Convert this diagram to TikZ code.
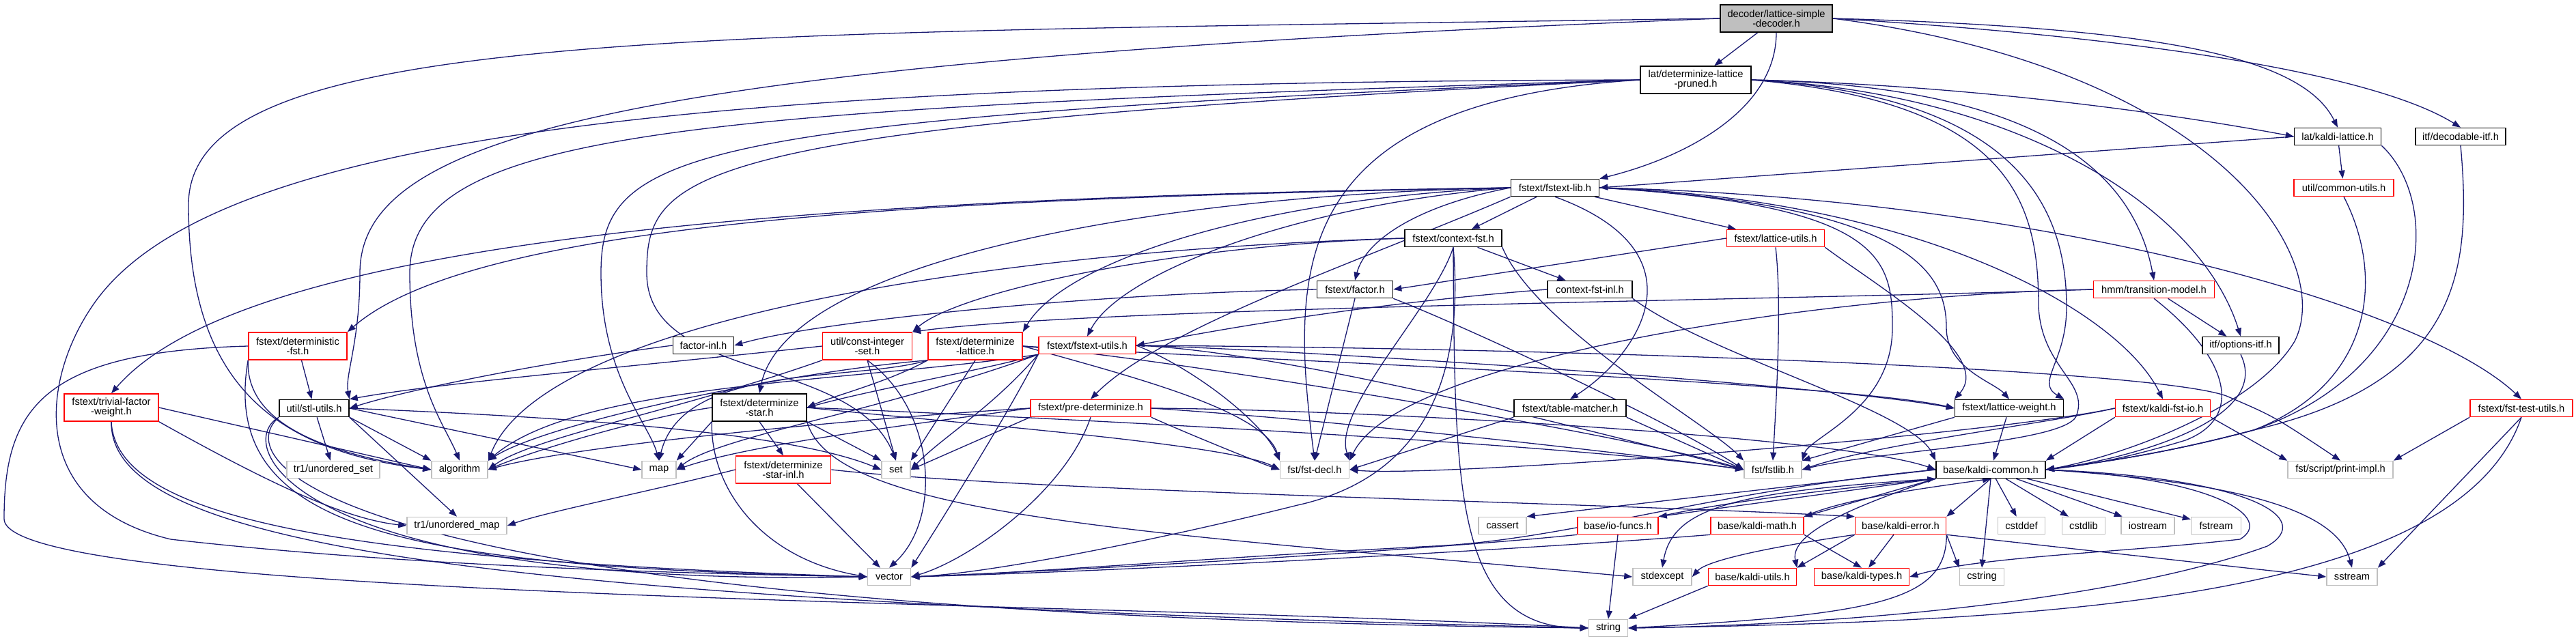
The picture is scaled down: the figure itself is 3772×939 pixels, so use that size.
\documentclass[tikz,border=0pt]{standalone}
\usepackage{fontspec}
\setmainfont{Liberation Sans}
\usetikzlibrary{arrows.meta}
\definecolor{edgeblue}{HTML}{191970}
\definecolor{boxgray}{HTML}{BFBFBF}
\pgfdeclarelayer{bg}
\pgfsetlayers{bg,main}
\tikzset{
  hdrbox/.style={draw=black, fill=white, line width=1.6pt, inner sep=0pt, align=center,
    minimum height=25pt, font=\fontsize{14.7}{14}\selectfont},
  cutbox/.style={hdrbox, draw=red},
  sysbox/.style={hdrbox, draw=boxgray},
  rootbox/.style={hdrbox, fill=boxgray},
  twoline/.style={minimum height=40pt},
  incl/.style={->, draw=edgeblue, line width=1.3pt},
}
\begin{document}
\begin{tikzpicture}[x=1pt, y=-1pt, >={Triangle[length=12pt,width=9pt]}]
\useasboundingbox (0,0) rectangle (3772,939);

\node[rootbox, twoline, minimum width=164pt] (dec) at (2601,27) {decoder/lattice-simple\\-decoder.h};
\node[hdrbox, twoline, minimum width=162pt] (dlp) at (2483,117) {lat/determinize-lattice\\-pruned.h};
\node[hdrbox, minimum width=129pt] (fsl) at (2277,275) {fstext/fstext-lib.h};
\node[hdrbox, minimum width=127pt] (kl) at (3423,200) {lat/kaldi-lattice.h};
\node[hdrbox, minimum width=132pt] (ditf) at (3603,200) {itf/decodable-itf.h};
\node[cutbox, minimum width=146pt] (cu) at (3432,275) {util/common-utils.h};
\node[hdrbox, minimum width=142pt] (cfst) at (2128,349) {fstext/context-fst.h};
\node[cutbox, minimum width=143pt] (lu) at (2600,349) {fstext/lattice-utils.h};
\node[hdrbox, minimum width=111pt] (fac) at (1984,424) {fstext/factor.h};
\node[hdrbox, minimum width=124pt] (cfi) at (2328,424) {context-fst-inl.h};
\node[cutbox, minimum width=177pt] (tm) at (3154,424) {hmm/transition-model.h};
\node[cutbox, twoline, minimum width=144pt] (dfst) at (436,507) {fstext/deterministic\\-fst.h};
\node[hdrbox, minimum width=89pt] (fi) at (1030,506) {factor-inl.h};
\node[cutbox, twoline, minimum width=131pt] (cis) at (1270,507) {util/const-integer\\-set.h};
\node[cutbox, twoline, minimum width=138pt] (dl) at (1428,507) {fstext/determinize\\-lattice.h};
\node[cutbox, minimum width=142pt] (fu) at (1592,506) {fstext/fstext-utils.h};
\node[hdrbox, minimum width=112pt] (oitf) at (3281,506) {itf/options-itf.h};
\node[cutbox, twoline, minimum width=138pt] (tfw) at (163,597) {fstext/trivial-factor\\-weight.h};
\node[hdrbox, minimum width=102pt] (stl) at (460,598) {util/stl-utils.h};
\node[hdrbox, twoline, minimum width=138pt] (ds) at (1112,597) {fstext/determinize\\-star.h};
\node[cutbox, minimum width=176pt] (pd) at (1597,598) {fstext/pre-determinize.h};
\node[hdrbox, minimum width=164pt] (tmat) at (2299,598) {fstext/table-matcher.h};
\node[hdrbox, minimum width=159pt] (lw) at (2942,598) {fstext/lattice-weight.h};
\node[cutbox, minimum width=139pt] (kfio) at (3167,598) {fstext/kaldi-fst-io.h};
\node[cutbox, minimum width=150pt] (ftu) at (3692,598) {fstext/fst-test-utils.h};
\node[sysbox, minimum width=136pt] (uset) at (488,688) {tr1/unordered\_set};
\node[sysbox, minimum width=82pt] (alg) at (673,688) {algorithm};
\node[sysbox, minimum width=50pt] (map) at (965,688) {map};
\node[cutbox, twoline, minimum width=139pt] (dsi) at (1147,688) {fstext/determinize\\-star-inl.h};
\node[sysbox, minimum width=42pt] (set) at (1312,688) {set};
\node[sysbox, minimum width=101pt] (fdecl) at (1925,688) {fst/fst-decl.h};
\node[sysbox, minimum width=84pt] (fstlib) at (2596,688) {fst/fstlib.h};
\node[hdrbox, minimum width=160pt] (kc) at (2915,688) {base/kaldi-common.h};
\node[sysbox, minimum width=154pt] (pimpl) at (3427,688) {fst/script/print-impl.h};
\node[sysbox, minimum width=146pt] (umap) at (669,770) {tr1/unordered\_map};
\node[sysbox, minimum width=70pt] (cassert) at (2200,770) {cassert};
\node[cutbox, minimum width=118pt] (iof) at (2369,770) {base/io-funcs.h};
\node[cutbox, minimum width=136pt] (kmath) at (2573,770) {base/kaldi-math.h};
\node[cutbox, minimum width=133pt] (kerr) at (2783,770) {base/kaldi-error.h};
\node[sysbox, minimum width=69pt] (cstddef) at (2960,770) {cstddef};
\node[sysbox, minimum width=63pt] (cstdlib) at (3051,770) {cstdlib};
\node[sysbox, minimum width=78pt] (iostream) at (3145,770) {iostream};
\node[sysbox, minimum width=73pt] (fstream) at (3245,770) {fstream};
\node[sysbox, minimum width=63pt] (vector) at (1302,845) {vector};
\node[sysbox, minimum width=86pt] (stdexcept) at (2434,845) {stdexcept};
\node[cutbox, minimum width=129pt] (kutils) at (2566,845) {base/kaldi-utils.h};
\node[cutbox, minimum width=139pt] (ktypes) at (2726,845) {base/kaldi-types.h};
\node[sysbox, minimum width=65pt] (cstring) at (2902,845) {cstring};
\node[sysbox, minimum width=74pt] (sstream) at (3444,845) {sstream};
\node[sysbox, minimum width=57pt] (string) at (2355,920) {string};

\begin{pgfonlayer}{bg}
\draw[incl] (dec) -- (dlp);
\draw[incl] (dec.south) .. controls (2601,160) and (2470,230) .. (fsl.north east);
\draw[incl] (dec.east) .. controls (3150,40) and (3370,80) .. (kl.north);
\draw[incl] (dec.east) .. controls (3150,55) and (3480,110) .. (ditf.north);
\draw[incl] (dec.east) .. controls (3250,100) and (3420,380) .. (3360,500) .. controls (3300,600) and (3100,670) .. (kc.east);
\draw[incl] (dec.west) .. controls (900,90) and (527,200) .. (527,400) .. controls (527,500) and (505,550) .. (stl.north east);
\draw[incl] (dec.west) .. controls (1000,50) and (276,40) .. (276,300) .. controls (276,560) and (400,660) .. (alg.west);

\draw[incl] (dlp.west) .. controls (1880,150) and (1890,400) .. (fdecl.north);
\draw[incl] (dlp.west) .. controls (1000,160) and (600,190) .. (600,400) .. controls (600,560) and (650,620) .. (alg.north);
\draw[incl] (dlp.west) .. controls (1000,175) and (880,220) .. (880,400) .. controls (880,550) and (950,620) .. (map.north);
\draw[incl] (dlp.west) .. controls (1000,185) and (947,250) .. (947,400) .. controls (947,560) and (1250,520) .. (set.north);
\draw[incl] (dlp.west) .. controls (1000,120) and (300,200) .. (134,450) .. controls (60,560) and (40,740) .. (250,790) .. controls (600,830) and (1000,840) .. (vector.west);
\draw[incl] (dlp.east) .. controls (2900,125) and (3200,170) .. (kl.west);
\draw[incl] (dlp.east) .. controls (2950,125) and (3120,230) .. (tm.north);
\draw[incl] (dlp.east) .. controls (2950,135) and (3220,300) .. (oitf.north);
\draw[incl] (dlp.east) .. controls (2950,140) and (3026,300) .. (3026,450) .. controls (3026,530) and (2980,560) .. (lw.north east);
\draw[incl] (dlp.east) .. controls (2950,150) and (2985,300) .. (2985,450) .. controls (2990,540) and (3060,560) .. (3040,610) .. controls (3020,650) and (2750,660) .. (fstlib.east);

\draw[incl] (fsl) -- (cfst);
\draw[incl] (fsl) -- (lu);
\draw[incl] (fsl.west) .. controls (2080,300) and (2000,350) .. (fac.north);
\draw[incl] (fsl.south) .. controls (2500,370) and (2400,520) .. (tmat.north);
\draw[incl] (fsl.west) .. controls (1850,290) and (1560,380) .. (dl.north east);
\draw[incl] (fsl.west) .. controls (1900,300) and (1640,400) .. (fu.north);
\draw[incl] (fsl.west) .. controls (1700,285) and (1150,380) .. (ds.north);
\draw[incl] (fsl.south west) .. controls (2000,380) and (1700,480) .. (pd.north);
\draw[incl] (fsl.west) .. controls (1400,290) and (700,320) .. (dfst.north east);
\draw[incl] (fsl.west) .. controls (1100,290) and (350,360) .. (tfw.north);
\draw[incl] (fsl.east) .. controls (2760,300) and (2771,380) .. (2771,480) .. controls (2771,600) and (2650,640) .. (fstlib.north east);
\draw[incl] (fsl.east) .. controls (2800,300) and (2850,400) .. (2850,480) .. controls (2850,540) and (2920,560) .. (lw.north);
\draw[incl] (fsl.east) .. controls (2800,290) and (3100,450) .. (kfio.north);
\draw[incl] (fsl.east) .. controls (3000,290) and (3550,450) .. (ftu.north);

\draw[incl] (kl.west) -- (fsl.east);
\draw[incl] (kl) -- (cu);
\draw[incl] (kl.south east) .. controls (3580,300) and (3560,540) .. (3300,630) .. controls (3150,670) and (3050,680) .. (kc.east);
\draw[incl] (ditf.south) .. controls (3620,400) and (3600,560) .. (3300,630) .. controls (3150,670) and (3050,680) .. (kc.east);
\draw[incl] (cu.south) .. controls (3490,400) and (3480,560) .. (3300,630) .. controls (3150,670) and (3050,680) .. (kc.east);

\draw[incl] (cfst) -- (cfi);
\draw[incl] (cfst.west) .. controls (1700,360) and (1400,430) .. (cis.north east);
\draw[incl] (cfst.west) .. controls (1500,365) and (800,460) .. (alg.north east);
\draw[incl] (cfst.south) .. controls (2100,450) and (1950,600) .. (fdecl.north east);
\draw[incl] (cfst.south east) .. controls (2250,480) and (2500,620) .. (fstlib.north west);
\draw[incl] (cfst.south) .. controls (2145,560) and (2080,700) .. (1900,740) .. controls (1700,790) and (1450,840) .. (vector.east);
\draw[incl] (cfst.south) .. controls (2130,720) and (2130,920) .. (string.west);

\draw[incl] (cfi.west) .. controls (2000,445) and (1800,480) .. (fu.east);
\draw[incl] (cfi.south east) .. controls (2500,520) and (2800,600) .. (kc.north west);

\draw[incl] (lu.west) -- (fac.east);
\draw[incl] (lu.south) .. controls (2610,450) and (2600,600) .. (fstlib.north);
\draw[incl] (lu.south east) .. controls (2750,420) and (2920,520) .. (lw.north west);

\draw[incl] (fac.west) .. controls (1600,430) and (1200,470) .. (fi.east);
\draw[incl] (fac.south) -- (fdecl.north);
\draw[incl] (fac.south east) .. controls (2150,480) and (2450,620) .. (fstlib.west);

\draw[incl] (fi.west) .. controls (800,530) and (600,570) .. (stl.east);

\draw[incl] (cis.west) .. controls (900,540) and (650,560) .. (stl.north east);
\draw[incl] (cis.south west) .. controls (1000,600) and (780,640) .. (alg.east);
\draw[incl] (cis.south) -- (set.north);
\draw[incl] (cis.south) .. controls (1370,600) and (1380,760) .. (vector.north);

\draw[incl] (dl.south) -- (set.north east);
\draw[incl] (dl.south west) .. controls (1250,560) and (1000,530) .. (map.north);
\draw[incl] (dl.south west) .. controls (1300,560) and (1220,580) .. (ds.east);
\draw[incl] (dl.south west) .. controls (1150,545) and (800,620) .. (alg.north east);
\draw[incl] (dl.east) .. controls (1650,550) and (1850,600) .. (fdecl.north west);
\draw[incl] (dl.east) .. controls (1750,530) and (2400,640) .. (fstlib.west);
\draw[incl] (dl.east) .. controls (1800,525) and (2700,560) .. (lw.west);

\draw[incl] (fu.south west) .. controls (1450,540) and (1280,570) .. (ds.east);
\draw[incl] (fu.south west) .. controls (1450,600) and (1380,640) .. (set.east);
\draw[incl] (fu.south west) .. controls (1480,600) and (1380,760) .. (vector.north east);
\draw[incl] (fu.south west) .. controls (1300,600) and (1050,640) .. (map.east);
\draw[incl] (fu.south west) .. controls (1250,560) and (850,560) .. (alg.north east);
\draw[incl] (fu.east) .. controls (1750,540) and (1850,620) .. (fdecl.north west);
\draw[incl] (fu.east) .. controls (1900,515) and (2400,650) .. (fstlib.west);
\draw[incl] (fu.east) .. controls (1850,510) and (2650,560) .. (lw.west);
\draw[incl] (fu.east) .. controls (2300,510) and (3150,540) .. (3260,580) .. controls (3330,610) .. (pimpl.north);

\draw[incl] (ds.south west) -- (map.north east);
\draw[incl] (ds.south) -- (dsi.north);
\draw[incl] (ds.south east) -- (set.north west);
\draw[incl] (ds.south west) .. controls (1040,720) and (1120,820) .. (vector.west);
\draw[incl] (ds.west) .. controls (950,610) and (780,660) .. (alg.east);
\draw[incl] (ds.south east) .. controls (1220,760) and (1700,780) .. (stdexcept.west);
\draw[incl] (ds.east) .. controls (1400,620) and (1800,650) .. (fdecl.west);
\draw[incl] (ds.east) .. controls (1500,610) and (2300,650) .. (fstlib.west);

\draw[incl] (dsi) -- (vector);
\draw[incl] (dsi.west) .. controls (950,720) and (800,750) .. (umap.east);
\draw[incl] (dsi.east) .. controls (1500,720) and (2300,735) .. (kerr.north west);

\draw[incl] (pd.south west) -- (set.east);
\draw[incl] (pd.west) .. controls (1350,620) and (1100,650) .. (map.east);
\draw[incl] (pd.west) .. controls (1300,610) and (850,650) .. (alg.east);
\draw[incl] (pd.south) .. controls (1560,720) and (1420,820) .. (vector.east);
\draw[incl] (pd.south east) .. controls (1750,640) and (1850,680) .. (fdecl.west);
\draw[incl] (pd.east) .. controls (1950,615) and (2400,665) .. (fstlib.west);
\draw[incl] (pd.east) .. controls (2000,600) and (2700,640) .. (kc.west);

\draw[incl] (tmat.south west) -- (fdecl.east);
\draw[incl] (tmat.south east) -- (fstlib.west);

\draw[incl] (lw.south west) -- (fstlib.north east);
\draw[incl] (lw) -- (kc);

\draw[incl] (kfio.south west) -- (kc.north east);
\draw[incl] (kfio.west) .. controls (3000,620) and (2750,650) .. (fstlib.east);
\draw[incl] (kfio.west) .. controls (2900,640) and (2100,700) .. (fdecl.east);
\draw[incl] (kfio.south east) -- (pimpl.north west);

\draw[incl] (ftu.south west) -- (pimpl.north east);
\draw[incl] (ftu.south) -- (sstream.north east);
\draw[incl] (ftu.south) .. controls (3600,880) and (3000,910) .. (string.east);

\draw[incl] (oitf.south) .. controls (3330,620) and (3100,675) .. (kc.east);
\draw[incl] (tm) -- (oitf);
\draw[incl] (tm.south) .. controls (3260,520) and (3290,610) .. (3200,645) .. controls (3100,675) and (3050,682) .. (kc.east);
\draw[incl] (tm.west) .. controls (2700,430) and (2050,520) .. (fdecl.north east);
\draw[incl] (tm.west) .. controls (2600,440) and (1600,450) .. (cis.north east);

\draw[incl] (dfst) -- (stl);
\draw[incl] (dfst.south west) .. controls (360,610) and (450,660) .. (alg.west);
\draw[incl] (dfst.south west) .. controls (320,780) and (600,830) .. (vector.west);
\draw[incl] (dfst.west) .. controls (60,515) and (6,600) .. (6,760) .. controls (6,880) and (1600,880) .. (string.west);

\draw[incl] (tfw.east) -- (alg.west);
\draw[incl] (tfw.south east) .. controls (380,700) and (500,760) .. (umap.west);
\draw[incl] (tfw.south) .. controls (170,760) and (500,820) .. (vector.west);
\draw[incl] (tfw.south) .. controls (160,800) and (700,880) .. (string.west);

\draw[incl] (stl) -- (uset);
\draw[incl] (stl.south east) -- (alg.north west);
\draw[incl] (stl.east) -- (map.west);
\draw[incl] (stl.east) .. controls (800,610) and (1150,630) .. (set.west);
\draw[incl] (stl.south east) -- (umap.north);
\draw[incl] (stl.south west) .. controls (340,650) and (420,860) .. (vector.west);
\draw[incl] (stl.south west) .. controls (330,680) and (500,900) .. (string.west);

\draw[incl] (kc.west) -- (cassert.north east);
\draw[incl] (kc.south west) -- (iof.north east);
\draw[incl] (kc.south west) -- (kmath.north east);
\draw[incl] (kc.south) -- (kerr.north east);
\draw[incl] (kc.south west) .. controls (2550,720) and (2450,740) .. (stdexcept.north);
\draw[incl] (kc.south west) .. controls (2720,740) and (2620,780) .. (kutils.north east);
\draw[incl] (kc.east) .. controls (3250,700) and (3330,760) .. (3280,790) .. controls (3100,810) and (2900,815) .. (ktypes.east);
\draw[incl] (kc) -- (cstddef);
\draw[incl] (kc) -- (cstdlib);
\draw[incl] (kc) -- (iostream);
\draw[incl] (kc) -- (fstream);
\draw[incl] (kc.south) -- (cstring.north);
\draw[incl] (kc.east) .. controls (3250,705) and (3420,740) .. (sstream.north);
\draw[incl] (kc.east) .. controls (3300,700) and (3390,760) .. (3320,800) .. controls (3100,880) and (2700,915) .. (string.east);
\draw[incl] (kc.west) .. controls (2500,720) and (2300,790) .. (2100,800) .. controls (1800,815) and (1500,840) .. (vector.east);

\draw[incl] (iof.south) -- (string.north);
\draw[incl] (iof.south west) .. controls (2150,800) and (1700,830) .. (vector.east);
\draw[incl] (iof.north east) .. controls (2550,730) and (2750,710) .. (kc.south west);

\draw[incl] (kmath.south east) -- (ktypes.north);
\draw[incl] (kmath.south west) .. controls (2300,800) and (1700,835) .. (vector.east);
\draw[incl] (kmath.north east) .. controls (2700,730) and (2820,715) .. (kc.south);

\draw[incl] (kerr) -- (ktypes);
\draw[incl] (kerr.south west) -- (kutils.north east);
\draw[incl] (kerr.south west) .. controls (2600,800) and (2500,820) .. (stdexcept.east);
\draw[incl] (kerr.south east) .. controls (2850,880) and (2750,900) .. (string.east);
\draw[incl] (kerr.south east) -- (cstring.north west);
\draw[incl] (kerr.south east) -- (sstream.west);

\draw[incl] (kutils.south west) -- (string.north east);
\end{pgfonlayer}
\end{tikzpicture}
\end{document}
